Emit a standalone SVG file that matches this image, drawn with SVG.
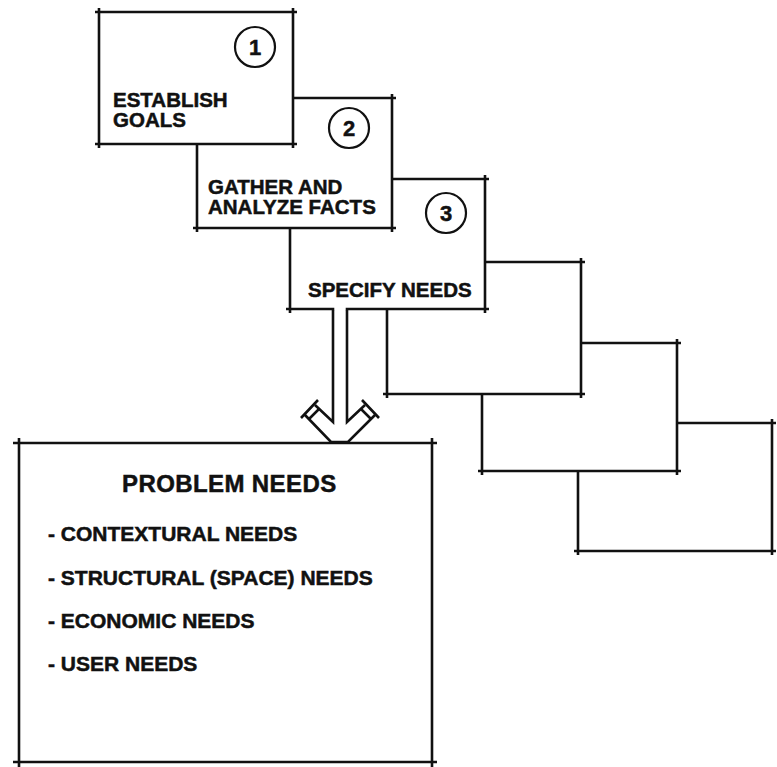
<svg xmlns="http://www.w3.org/2000/svg" width="777" height="767" viewBox="0 0 777 767">
  <style>
    .frame { fill: #fff; stroke: none; }
    .edge { fill: none; stroke: #111; stroke-width: 2.6; stroke-linecap: butt; }
    .num { fill: none; stroke: #111; stroke-width: 2.2; }
    .lbl { font-family: "Liberation Sans", Arial, sans-serif; font-weight: bold; fill: #111; stroke: #111; stroke-width: 0.5; }
    .step { font-size: 20.5px; }
    .digit { font-size: 22px; text-anchor: middle; }
    .title { font-size: 24px; letter-spacing: 0.4px; }
    .item { font-size: 21px; }
  </style>
  <rect width="777" height="767" fill="#fff"/>

  <!-- empty steps trailing off to the lower right (drawn back to front) -->
  <g id="step6">
    <rect class="frame" x="578" y="423" width="194" height="128"/>
    <path class="edge" d="M574 423H776M772 419V555M776 551H574M578 555V419"/>
  </g>
  <g id="step5">
    <rect class="frame" x="482" y="343" width="195" height="128"/>
    <path class="edge" d="M478 343H681M677 339V475M681 471H478M482 475V339"/>
  </g>
  <g id="step4">
    <rect class="frame" x="387" y="262" width="194" height="132"/>
    <path class="edge" d="M383 262H585M581 258V398M585 394H383M387 398V258"/>
  </g>

  <g id="step3">
    <rect class="frame" x="290" y="179" width="195" height="130"/>
    <path class="edge" d="M286 179H489M485 175V313M489 309H286M290 313V175"/>
    <circle class="num" cx="446" cy="213" r="20"/>
    <text class="lbl digit" x="446" y="221">3</text>
    <text class="lbl step" x="308" y="297">SPECIFY NEEDS</text>
  </g>

  <g id="step2">
    <rect class="frame" x="197" y="98" width="195" height="130"/>
    <path class="edge" d="M193 98H396M392 94V232M396 228H193M197 232V94"/>
    <circle class="num" cx="349" cy="128" r="20"/>
    <text class="lbl digit" x="349" y="136">2</text>
    <text class="lbl step" x="208" y="194">GATHER AND<tspan x="208" y="214">ANALYZE FACTS</tspan></text>
  </g>

  <g id="step1">
    <rect class="frame" x="99" y="12" width="194" height="132"/>
    <path class="edge" d="M95 12H297M293 8V148M297 144H95M99 148V8"/>
    <circle class="num" cx="255" cy="47" r="20"/>
    <text class="lbl digit" x="255" y="55">1</text>
    <text class="lbl step" x="113" y="107">ESTABLISH<tspan x="113" y="127">GOALS</tspan></text>
  </g>

  <g id="problem-needs">
    <rect class="frame" x="19" y="443" width="413" height="319"/>
    <path class="edge" d="M13 443H437M432 438V767M437 762H13M19 767V438"/>
    <text class="lbl title" x="122" y="492">PROBLEM NEEDS</text>
    <text class="lbl item" x="48" y="541">- CONTEXTURAL NEEDS</text>
    <text class="lbl item" x="48" y="585">- STRUCTURAL (SPACE) NEEDS</text>
    <text class="lbl item" x="48" y="628">- ECONOMIC NEEDS</text>
    <text class="lbl item" x="48" y="671">- USER NEEDS</text>
  </g>

  <!-- hollow arrow from the specified needs down into the needs box -->
  <g id="connectors">
    <polygon class="frame" points="334.3,306 334.3,421 315,405 305,415 330,442 348,442 375,415 365,405 345.7,421 345.7,306"/>
    <path class="edge" d="M333 310V422L315 405M305 415L331 442H348L375 415M365 405L347 422V310"/>
    <path class="edge" d="M318 400L301 418M309 419L319 409M362 400L379 418M371 419L361 409" stroke-width="1.8"/>
  </g>
</svg>
